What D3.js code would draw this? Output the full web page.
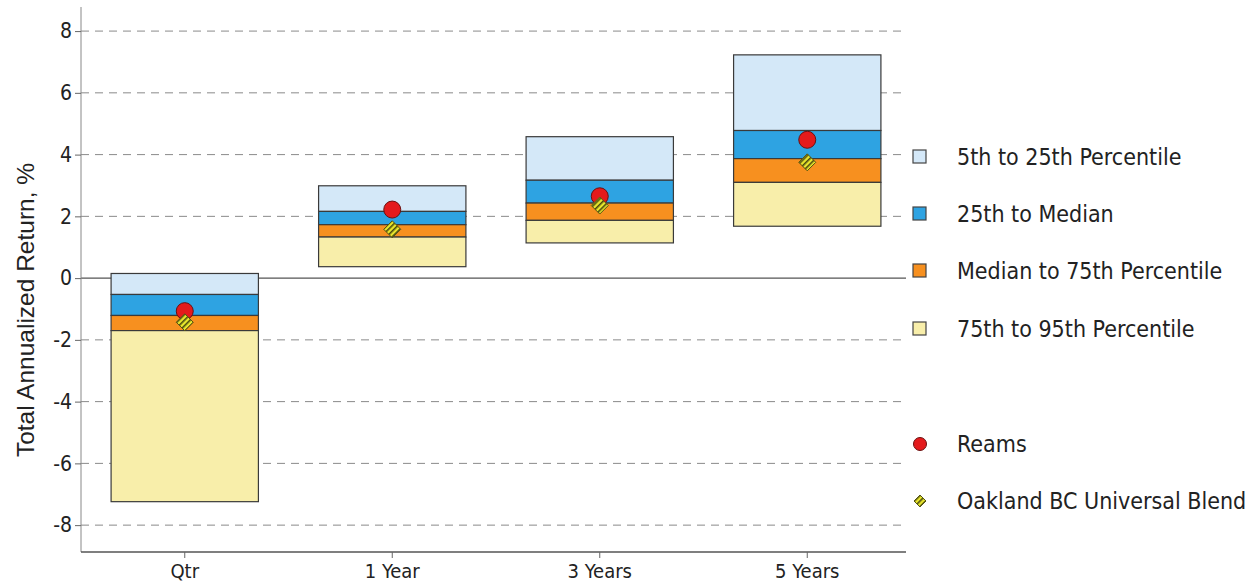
<!DOCTYPE html>
<html><head><meta charset="utf-8">
<script src="https://cdn.jsdelivr.net/npm/d3@7"></script>
<style>
body{margin:0;background:#fff;}
svg{display:block;}
</style></head>
<body>
<svg id="chart" width="1260" height="588"></svg>
<script>
const categories = ["Qtr", "1 Year", "3 Years", "5 Years"];
const p5  = [0.15, 2.99, 4.58, 7.23];
const p25 = [-0.53, 2.16, 3.17, 4.78];
const p50 = [-1.21, 1.73, 2.43, 3.87];
const p75 = [-1.70, 1.33, 1.87, 3.10];
const p95 = [-7.24, 0.37, 1.14, 1.68];
const reams = [-1.07, 2.22, 2.65, 4.48];
const oakland = [-1.43, 1.58, 2.35, 3.75];
const yTicks = [-8, -6, -4, -2, 0, 2, 4, 6, 8];
const bandNames = ["5th to 25th Percentile", "25th to Median", "Median to 75th Percentile", "75th to 95th Percentile"];
const bandColors = ["#d4e8f8", "#2ea3e2", "#f7901f", "#f8eeaa"];
const pointNames = ["Reams", "Oakland BC Universal Blend"];

const svg = d3.select("#chart");
const narrow = "'DejaVu Sans Condensed', 'Liberation Sans Narrow', sans-serif";

const defs = svg.append("defs");
const pat = defs.append("pattern").attr("id","stripes").attr("patternUnits","userSpaceOnUse")
  .attr("width",4).attr("height",4).attr("patternTransform","rotate(45)");
pat.append("rect").attr("width",4).attr("height",4).attr("fill","#e8e62c");
pat.append("rect").attr("x",0).attr("width",1.6).attr("height",4).attr("fill","#4a4a10");

const x = d3.scaleBand().domain(categories).range([81, 911]).paddingInner(0.29).paddingOuter(0.145);
const y = d3.scaleLinear().domain([-8.87, 8.78]).range([552, 7]);

// gridlines
svg.append("g").selectAll("line").data(yTicks.filter(d => d !== 0)).join("line")
  .attr("x1", 81).attr("x2", 906).attr("y1", d => y(d)).attr("y2", d => y(d))
  .attr("stroke", "#8a8a8a").attr("stroke-width", 1).attr("stroke-dasharray", "8,6");
svg.append("line").attr("x1", 81).attr("x2", 906).attr("y1", y(0)).attr("y2", y(0))
  .attr("stroke", "#555").attr("stroke-width", 1.2);

// y axis
const yAxis = svg.append("g").attr("transform", "translate(81,0)")
  .call(d3.axisLeft(y).tickValues(yTicks).tickSize(6).tickPadding(3).tickFormat(d => String(d)));
yAxis.select(".domain").attr("stroke", "#888").attr("d", `M0,${y.range()[1]}V${y.range()[0]}`);
yAxis.selectAll(".tick line").attr("stroke", "#666");
yAxis.selectAll("text").attr("font-family", narrow).attr("font-size", 21).attr("fill", "#222");

// x axis
const xAxis = svg.append("g").attr("transform", `translate(0,${y.range()[0]})`)
  .call(d3.axisBottom(x).tickSize(6).tickPadding(6));
xAxis.select(".domain").attr("stroke", "#555").attr("stroke-width", 1.3).attr("d", "M81,0H906");
xAxis.selectAll(".tick line").attr("stroke", "#666");
xAxis.selectAll("text").attr("font-family", narrow).attr("font-size", 20).attr("fill", "#222");

// y title
svg.append("text").attr("transform", `translate(25,310) rotate(-90)`)
  .attr("text-anchor", "middle").attr("dy", "0.35em").attr("font-family", "'Liberation Sans', Arial, sans-serif")
  .attr("font-size", 24.5).attr("fill", "#222").text("Total Annualized Return, %");

// boxes
const bounds = [p5, p25, p50, p75, p95];
const segs = [];
categories.forEach((c, i) => {
  for (let k = 0; k < 4; k++) segs.push({c, k, top: bounds[k][i], bot: bounds[k+1][i]});
});
svg.append("g").selectAll("rect").data(segs).join("rect")
  .attr("x", d => x(d.c)).attr("width", x.bandwidth())
  .attr("y", d => y(d.top)).attr("height", d => y(d.bot) - y(d.top))
  .attr("fill", d => bandColors[d.k]).attr("stroke", "#3a3a3a").attr("stroke-width", 1.2);

// points
const cx = c => x(c) + x.bandwidth() / 2;
function diamond(g, px, py, r) {
  g.append("path").attr("d", `M${px},${py-r}L${px+r},${py}L${px},${py+r}L${px-r},${py}Z`)
    .attr("fill", "url(#stripes)").attr("stroke", "#555511").attr("stroke-width", 1);
}
svg.append("g").selectAll("circle").data(categories).join("circle")
  .attr("cx", d => cx(d)).attr("cy", (d, i) => y(reams[i])).attr("r", 8.5)
  .attr("fill", "#e41a1c").attr("stroke", "#6a1010").attr("stroke-width", 1);
const dg = svg.append("g");
categories.forEach((c, i) => diamond(dg, cx(c), y(oakland[i]), 8.5));

// legend
const leg = svg.append("g");
const legY = [157, 214, 271, 329];
bandNames.forEach((n, k) => {
  leg.append("rect").attr("x", 913).attr("y", legY[k] - 7).attr("width", 13).attr("height", 13)
    .attr("fill", bandColors[k]).attr("stroke", "#444").attr("stroke-width", 1.2);
  leg.append("text").attr("x", 957).attr("y", legY[k]).attr("dy", "0.35em")
    .attr("font-family", narrow).attr("font-size", 23).attr("fill", "#222").text(n);
});
const ptY = [444, 501];
leg.append("circle").attr("cx", 920).attr("cy", ptY[0]).attr("r", 6.5)
  .attr("fill", "#e41a1c").attr("stroke", "#6a1010").attr("stroke-width", 1);
diamond(leg, 920, ptY[1], 6);
pointNames.forEach((n, k) => {
  leg.append("text").attr("x", 957).attr("y", ptY[k]).attr("dy", "0.35em")
    .attr("font-family", narrow).attr("font-size", 23).attr("fill", "#222").text(n);
});
</script>
</body></html>
